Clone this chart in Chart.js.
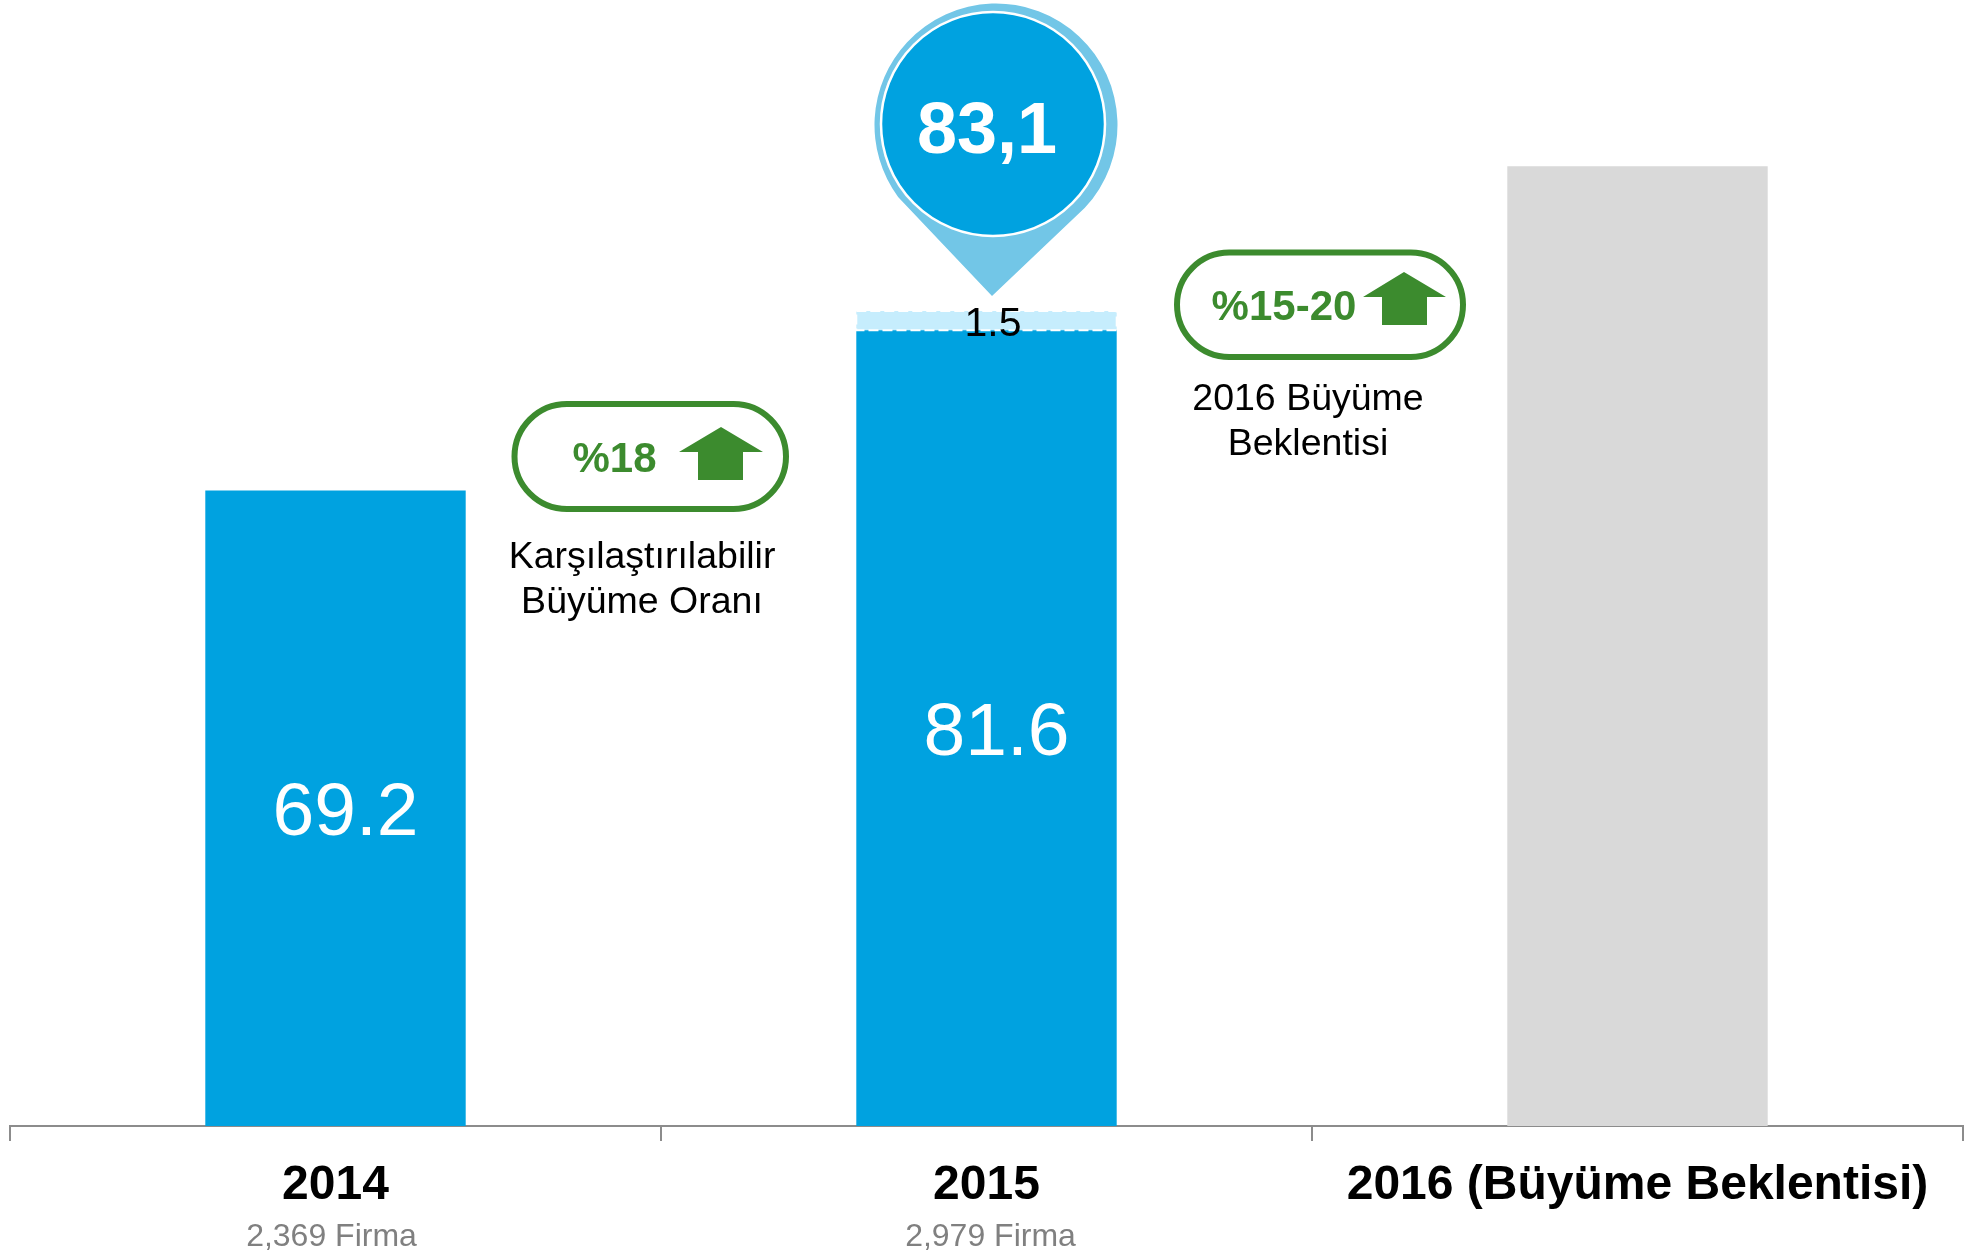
<!DOCTYPE html>
<html lang="tr">
<head>
<meta charset="utf-8">
<title>Büyüme</title>
<script src="https://cdn.jsdelivr.net/npm/chart.js@4"></script>
<style>html,body{margin:0;padding:0;background:#fff}canvas{display:block}</style>
</head>
<body>
<canvas id="c" width="1973" height="1253"></canvas>
<script>
const categories = ['2014', '2015', '2016 (Büyüme Beklentisi)'];
const firmCounts = ['2,369 Firma', '2,979 Firma', ''];
const comparableValues = [69.2, 81.6, null];
const addedValues = [null, 1.5, null];
const expectedValues = [null, null, 94.3];
const axisMin = 20;
const axisMax = 105;
const totalLabel = '83,1';

const FONT = '"Liberation Sans", Arial, sans-serif';
const BLUE = '#00a2e0', PIN = '#72c6e7', PALE = '#c6edfd', GREY = '#d9d9d9', GREEN = '#3c8b2e';

function text(ctx, s, x, y, font, color) {
  ctx.font = font; ctx.fillStyle = color;
  ctx.textAlign = 'center'; ctx.textBaseline = 'alphabetic';
  ctx.fillText(s, x, y);
}
function pill(ctx, x0, y0, x1, y1) {
  ctx.beginPath();
  ctx.roundRect(x0, y0, x1 - x0, y1 - y0, (y1 - y0) / 2);
  ctx.lineWidth = 6; ctx.strokeStyle = GREEN; ctx.stroke();
}
function arrow(ctx, tipX, tipY, baseY, left, right, stemL, stemR, bottom) {
  ctx.beginPath();
  ctx.moveTo(tipX, tipY); ctx.lineTo(right, baseY); ctx.lineTo(stemR, baseY);
  ctx.lineTo(stemR, bottom); ctx.lineTo(stemL, bottom); ctx.lineTo(stemL, baseY);
  ctx.lineTo(left, baseY); ctx.closePath();
  ctx.fillStyle = GREEN; ctx.fill();
}

const annotate = {
  id: 'annotate',
  afterDatasetsDraw(chart) {
    const ctx = chart.ctx;
    const base = chart.getDatasetMeta(0).data;
    const added = chart.getDatasetMeta(1).data[1];
    const xs = chart.scales.x;
    ctx.save();

    // dashed outline of the pale 1.5 segment
    const hw = added.width / 2;
    ctx.strokeStyle = '#fff'; ctx.lineWidth = 2; ctx.setLineDash([10, 4]);
    ctx.beginPath();
    ctx.rect(added.x - hw, added.y, hw * 2, added.base - added.y);
    ctx.stroke();
    ctx.setLineDash([]);

    // value labels inside the bars
    const big = '75px ' + FONT;
    text(ctx, comparableValues[0].toFixed(1), base[0].x + 10, 835, big, '#fff');
    text(ctx, comparableValues[1].toFixed(1), base[1].x + 10, 755, big, '#fff');
    text(ctx, addedValues[1].toFixed(1), added.x + 6.5, 336, '41px ' + FONT, '#000');

    // pin
    ctx.beginPath();
    ctx.arc(996, 125, 121.5, 43 * Math.PI / 180, 143.7 * Math.PI / 180, true);
    ctx.lineTo(992, 296);
    ctx.closePath();
    ctx.fillStyle = PIN; ctx.fill();
    ctx.beginPath(); ctx.arc(993, 124, 112, 0, Math.PI * 2);
    ctx.fillStyle = BLUE; ctx.fill();
    ctx.lineWidth = 2.5; ctx.strokeStyle = '#fff'; ctx.stroke();
    text(ctx, totalLabel, 987, 153, 'bold 72px ' + FONT, '#fff');

    // growth badges
    pill(ctx, 514.5, 404, 786, 509);
    text(ctx, '%18', 614.5, 472, 'bold 42px ' + FONT, GREEN);
    arrow(ctx, 721, 427, 452, 679, 763, 698, 743, 480);
    text(ctx, 'Karşılaştırılabilir', 642, 568, '37.5px ' + FONT, '#000');
    text(ctx, 'Büyüme Oranı', 642, 613, '37.5px ' + FONT, '#000');

    pill(ctx, 1177, 252.5, 1463, 357);
    text(ctx, '%15-20', 1284, 320, 'bold 42px ' + FONT, GREEN);
    arrow(ctx, 1404, 272, 297, 1363, 1446, 1382, 1427, 325);
    text(ctx, '2016 Büyüme', 1308, 410, '37.5px ' + FONT, '#000');
    text(ctx, 'Beklentisi', 1308, 455, '37.5px ' + FONT, '#000');

    // firm counts under the year labels
    firmCounts.forEach((s, i) => {
      if (s) text(ctx, s, xs.getPixelForValue(i) + (i === 0 ? -4 : 4), 1246, '32px ' + FONT, '#808080');
    });
    ctx.restore();
  }
};

new Chart(document.getElementById('c'), {
  type: 'bar',
  data: {
    labels: categories,
    datasets: [
      { label: 'Karşılaştırılabilir', data: comparableValues, backgroundColor: BLUE },
      { label: 'Ek', data: addedValues, backgroundColor: PALE },
      { label: 'Büyüme Beklentisi', data: expectedValues, backgroundColor: GREY }
    ]
  },
  options: {
    responsive: false,
    animation: false,
    layout: { padding: { left: 10, right: 10, top: 28, bottom: 0 } },
    datasets: { bar: { categoryPercentage: 1, barPercentage: 0.4 } },
    plugins: { legend: { display: false }, tooltip: { enabled: false }, title: { display: false } },
    scales: {
      x: {
        stacked: true,
        afterFit(scale) { scale.height = 127; },
        border: { color: '#8c8c8c', width: 2 },
        grid: { offset: true, drawOnChartArea: false, drawTicks: true, tickLength: 15, color: '#8c8c8c', lineWidth: 2 },
        ticks: { autoSkip: false, maxRotation: 0, minRotation: 0, padding: 16, color: '#000', font: { family: FONT, size: 48, weight: 'bold' } }
      },
      y: { stacked: true, display: false, min: axisMin, max: axisMax }
    }
  },
  plugins: [annotate]
});
</script>
</body>
</html>
